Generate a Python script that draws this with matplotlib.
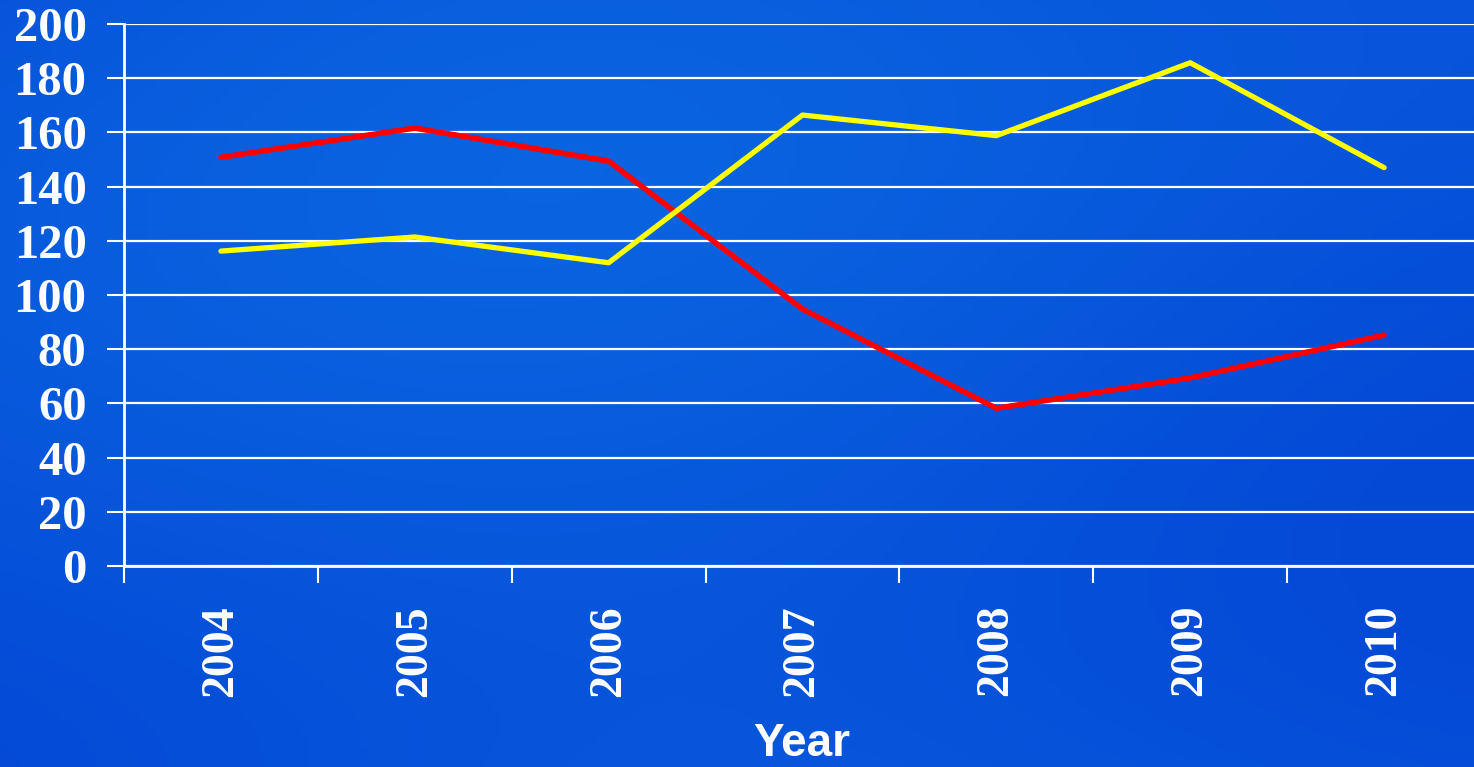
import matplotlib
matplotlib.use("Agg")
import matplotlib.pyplot as plt
import numpy as np

years = ["2004", "2005", "2006", "2007", "2008", "2009", "2010"]
red_values = [150.8, 161.6, 149.4, 94.8, 58.2, 69.4, 85.2]
yellow_values = [116.2, 121.4, 111.9, 166.4, 158.8, 185.7, 147.0]
y_ticks = [0, 20, 40, 60, 80, 100, 120, 140, 160, 180, 200]

BG = "#0757dc"

fig = plt.figure(figsize=(14.74, 7.67), dpi=100)
fig.patch.set_facecolor(BG)

# soft background shading, just to hint at the textured slide
bg = fig.add_axes([0, 0, 1, 1], zorder=-1)
yy, xx = np.mgrid[0:1:200j, 0:1:200j]
shade = 0.5 + 0.5 * np.sin(3.0 * xx + 2.0 * yy) * np.cos(2.5 * yy - 1.5 * xx)
bg.imshow(shade, cmap=matplotlib.colors.LinearSegmentedColormap.from_list(
    "bgblue", ["#0448d6", "#0a63e0"]), aspect="auto", extent=[0, 1, 0, 1])
bg.axis("off")

ax = fig.add_axes([124 / 1474, 1 - 566 / 767, 1357 / 1474, 542 / 767])
ax.set_facecolor("none")

x = np.arange(len(years))
ax.plot(x, red_values, color="#ff0000", lw=4.0, solid_capstyle="round", zorder=3)
ax.plot(x, yellow_values, color="#ffff00", lw=3.8, solid_capstyle="round", zorder=3)

ax.set_xlim(-0.5, len(years) - 0.5)
ax.set_ylim(0, 200)
ax.set_yticks(y_ticks)
ax.set_yticklabels([str(v) for v in y_ticks])
ax.yaxis.grid(True, color="white", lw=1.6)
ax.set_axisbelow(True)

ax.set_xticks(np.arange(-0.5, len(years), 1.0))
ax.set_xticklabels([])
ax.set_xticks(x, minor=True)
ax.set_xticklabels(years, minor=True, rotation=90, va="top", ha="center")

fp = matplotlib.font_manager.FontProperties
for lab in ax.get_yticklabels():
    lab.set_fontproperties(fp(family="Liberation Serif", weight="bold", size=35))
    lab.set_color("white")
for lab in ax.get_xticklabels(minor=True):
    lab.set_fontproperties(fp(family="Liberation Serif", weight="bold", size=33))
    lab.set_color("white")

ax.tick_params(axis="y", length=12, width=1.5, color="white", pad=15)
ax.tick_params(axis="x", which="major", length=12, width=1.5, color="white")
ax.tick_params(axis="x", which="minor", length=0, pad=28)

for side in ["top", "right"]:
    ax.spines[side].set_visible(False)
for side in ["left", "bottom"]:
    ax.spines[side].set_color("white")
    ax.spines[side].set_linewidth(2)

fig.text(802 / 1474, 1 - 744 / 767, "Year", ha="center", va="center",
         color="white", family="Liberation Sans", weight="bold", size=33)

fig.savefig("out.png", dpi=100, facecolor=fig.get_facecolor())
